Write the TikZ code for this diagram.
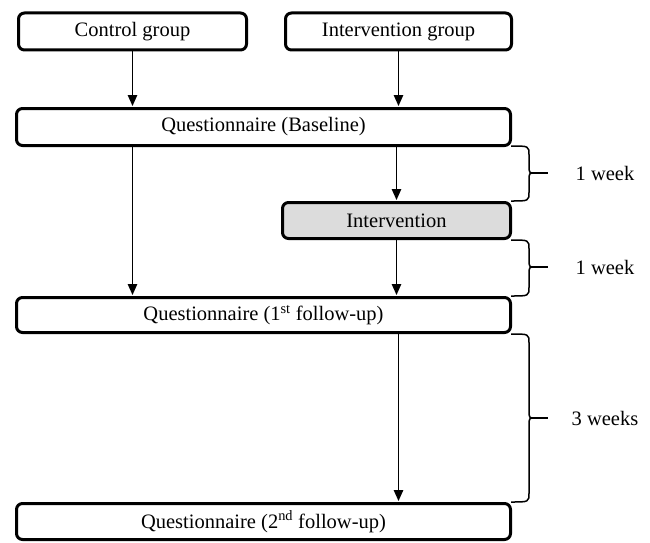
\documentclass[tikz,border=0pt]{standalone}
\usepackage{fontspec}
\setmainfont{Liberation Serif}
\usetikzlibrary{arrows.meta}
\definecolor{ivfill}{HTML}{DCDCDC}
\newcommand{\mybrace}[3]{%
  \draw[brc] (511,#1) .. controls (529,#1) .. (529,#1+9) -- (529,#3-8)
     .. controls (529,#3) .. (535,#3) .. controls (529,#3) .. (529,#3+8)
     -- (529,#2-9) .. controls (529,#2) .. (511,#2);
  \draw[line width=2.5pt] (533,#3) -- (548,#3);
}
\begin{document}
\begin{tikzpicture}[x=1pt,y=-1pt,
  box/.style={draw=black, line width=3pt, rounded corners=6pt, fill=white,
    inner sep=0pt, font=\fontsize{20.5}{24}\selectfont},
  arr/.style={line width=1.2pt, -{Triangle[length=11pt,width=9.5pt]}, shorten >=1pt},
  brc/.style={line width=1.5pt},
  lab/.style={font=\fontsize{20.5}{24}\selectfont}]
\useasboundingbox (0,0) rectangle (650,543);
\node[box, minimum width=228pt, minimum height=37pt] (ctrl) at (132.5,31.5) {Control group};
\node[box, minimum width=226pt, minimum height=37pt] (intg) at (398.5,31.5) {Intervention group};
\node[box, minimum width=494pt, minimum height=37pt] (base) at (263.5,127) {Questionnaire (Baseline)};
\node[box, fill=ivfill, minimum width=228pt, minimum height=36pt] (intv) at (396.5,220.5) {Intervention};
\node[box, minimum width=494pt, minimum height=35pt] (fu1) at (263.5,315) {Questionnaire (1\textsuperscript{st} follow-up)};
\node[box, minimum width=494pt, minimum height=36pt] (fu2) at (263.5,521.5) {Questionnaire (2\textsuperscript{nd} follow-up)};
\draw[arr] (ctrl.south) -- (ctrl.south |- base.north);
\draw[arr] (intg.south) -- (intg.south |- base.north);
\draw[arr] (intv.north |- base.south) -- (intv.north);
\draw[arr] (ctrl.south |- base.south) -- (ctrl.south |- fu1.north);
\draw[arr] (intv.south) -- (intv.south |- fu1.north);
\draw[arr] (intg.south |- fu1.south) -- (intg.south |- fu2.north);
\mybrace{146}{201}{173}
\mybrace{240}{296}{267}
\mybrace{334}{502}{418}
\node[lab] (w1) at (605,173) {1 week};
\node[lab] (w2) at (605,267) {1 week};
\node[lab] (w3) at (605,418) {3 weeks};
\end{tikzpicture}
\end{document}
